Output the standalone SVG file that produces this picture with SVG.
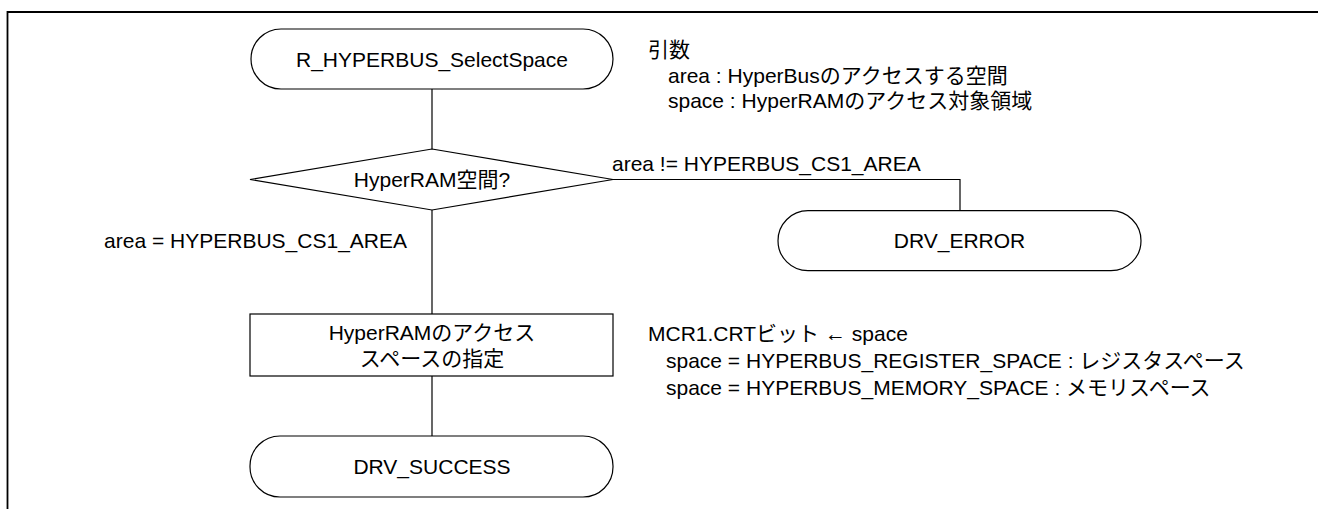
<svg xmlns="http://www.w3.org/2000/svg" width="1318" height="509" viewBox="0 0 1318 509">
<style>
text{font-family:"Liberation Sans","Noto Sans CJK JP",sans-serif;font-size:21px;fill:#000}
.c{text-anchor:middle}
.shape{fill:#fff;stroke:#000;stroke-width:1.2}
.conn{fill:none;stroke:#000;stroke-width:1.2}
</style>
<rect width="1318" height="509" fill="#fff"/>
<path d="M7.5 509 V12 H1318" fill="none" stroke="#000" stroke-width="1.8"/>
<g id="connectors">
<path class="conn" d="M432 89 V149"/>
<path class="conn" d="M432 210 V314"/>
<path class="conn" d="M432 376 V436"/>
<path class="conn" d="M613 179.5 H960 V210.7"/>
</g>
<g id="start">
<rect class="shape" x="251" y="29" width="362" height="60" rx="30" ry="30"/>
<text class="c" x="432" y="66.5">R_HYPERBUS_SelectSpace</text>
</g>
<g id="args-note">
<text x="648" y="57">引数</text>
<text x="668" y="83">area : HyperBusのアクセスする空間</text>
<text x="668" y="108">space : HyperRAMのアクセス対象領域</text>
</g>
<g id="decision">
<polygon class="shape" points="432,149 613,179.5 432,210 250,179.5"/>
<text class="c" x="432" y="187">HyperRAM空間?</text>
</g>
<g id="label-ne">
<text x="612" y="170.5">area != HYPERBUS_CS1_AREA</text>
</g>
<g id="label-eq">
<text x="407" y="248" text-anchor="end">area = HYPERBUS_CS1_AREA</text>
</g>
<g id="error">
<rect class="shape" x="778" y="210.7" width="363" height="60" rx="30" ry="30"/>
<text class="c" x="959.5" y="248">DRV_ERROR</text>
</g>
<g id="process">
<rect class="shape" x="250" y="314" width="363" height="62"/>
<text class="c" x="432" y="340">HyperRAMのアクセス</text>
<text class="c" x="432" y="366">スペースの指定</text>
</g>
<g id="mcr-note">
<text x="648" y="341">MCR1.CRTビット ← space</text>
<text x="666" y="368">space = HYPERBUS_REGISTER_SPACE : レジスタスペース</text>
<text x="666" y="395">space = HYPERBUS_MEMORY_SPACE : メモリスペース</text>
</g>
<g id="success">
<rect class="shape" x="250" y="436" width="363" height="61" rx="30" ry="30"/>
<text class="c" x="432" y="474">DRV_SUCCESS</text>
</g>
</svg>
